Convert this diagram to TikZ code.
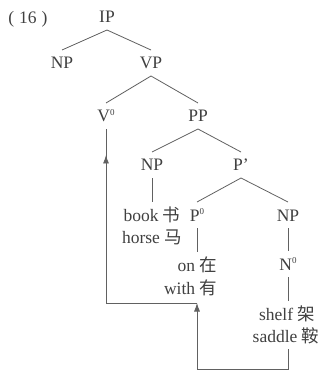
\documentclass[tikz,border=0pt]{standalone}
\usepackage{fontspec}
\setmainfont{Liberation Serif}
\newfontfamily\cjk{Noto Sans CJK SC}
\usetikzlibrary{arrows.meta}
\definecolor{inkgray}{gray}{0.25}
\definecolor{rulegray}{gray}{0.38}
% small raised zero for head labels
\newcommand{\zerosup}{\raisebox{6.5pt}{\fontsize{9}{9}\selectfont 0}}
\begin{document}
\begin{tikzpicture}[x=1pt,y=-1pt,
  lab/.style={text=inkgray, font=\fontsize{17.5}{21}\selectfont,
    text height=12pt, text depth=0pt, inner xsep=1pt, inner ysep=7pt, outer sep=0pt},
  edge/.style={draw=rulegray, line width=0.8pt},
  tip/.style={-{Latex[length=8.5pt,width=6pt]}}]
\useasboundingbox[fill=white] (0,0) rectangle (322,371);

% example number
\node[lab] (num) at (28,18) {(\hspace{5pt}16\hspace{5pt})};

% phrase structure
\node[lab] (IP)   at (107,17)  {IP};
\node[lab] (NPa)  at (62,63)   {NP};
\node[lab] (VP)   at (151,63)  {VP};
\node[lab] (V0)   at (106,116) {V\zerosup};
\node[lab] (PP)   at (198,116) {PP};
\node[lab] (NPb)  at (152,165) {NP};
\node[lab] (Pbar) at (241,165) {P’};
\node[lab] (P0)   at (197,215) {P\zerosup};
\node[lab] (NPc)  at (288,215) {NP};
\node[lab] (N0)   at (288,264) {N\zerosup};

% lexical items
\node[lab] (book)   at (152,215) {book {\cjk 书}};
\node[lab] (horse)  at (152,237) {horse {\cjk 马}};
\node[lab,anchor=east] (on)   at (218,265) {on {\cjk 在}};
\node[lab,anchor=east] (with) at (218,288) {with {\cjk 有}};
\node[lab] (shelf)  at (287,314) {shelf {\cjk 架}};
\node[lab] (saddle) at (286,336) {saddle {\cjk 鞍}};

% branches
\draw[edge] (NPa.north) -- (IP.south) -- (VP.north);
\draw[edge] (V0.north) -- (VP.south) -- (PP.north);
\draw[edge] (NPb.north) -- (PP.south) -- (Pbar.north);
\draw[edge] (P0.north) -- (Pbar.south) -- (NPc.north);
\draw[edge] (NPb.south) -- (NPb.south |- book.north);
\draw[edge] (P0.south) -- (P0.south |- on.north);
\draw[edge] (NPc.south) -- (N0.north);
\draw[edge] (N0.south) -- (N0.south |- shelf.north);

% movement path
\coordinate (low)  at (197,369);
\coordinate (turn) at (197,303);
\coordinate (vtip) at (106,155);
\draw[edge] (NPc.south |- saddle.south) |- (low);
\draw[edge,tip] (low) -- (turn);
\draw[edge] (turn) -| (V0.south);
\draw[edge,tip] (V0.south |- turn) -- (vtip);
\end{tikzpicture}
\end{document}
